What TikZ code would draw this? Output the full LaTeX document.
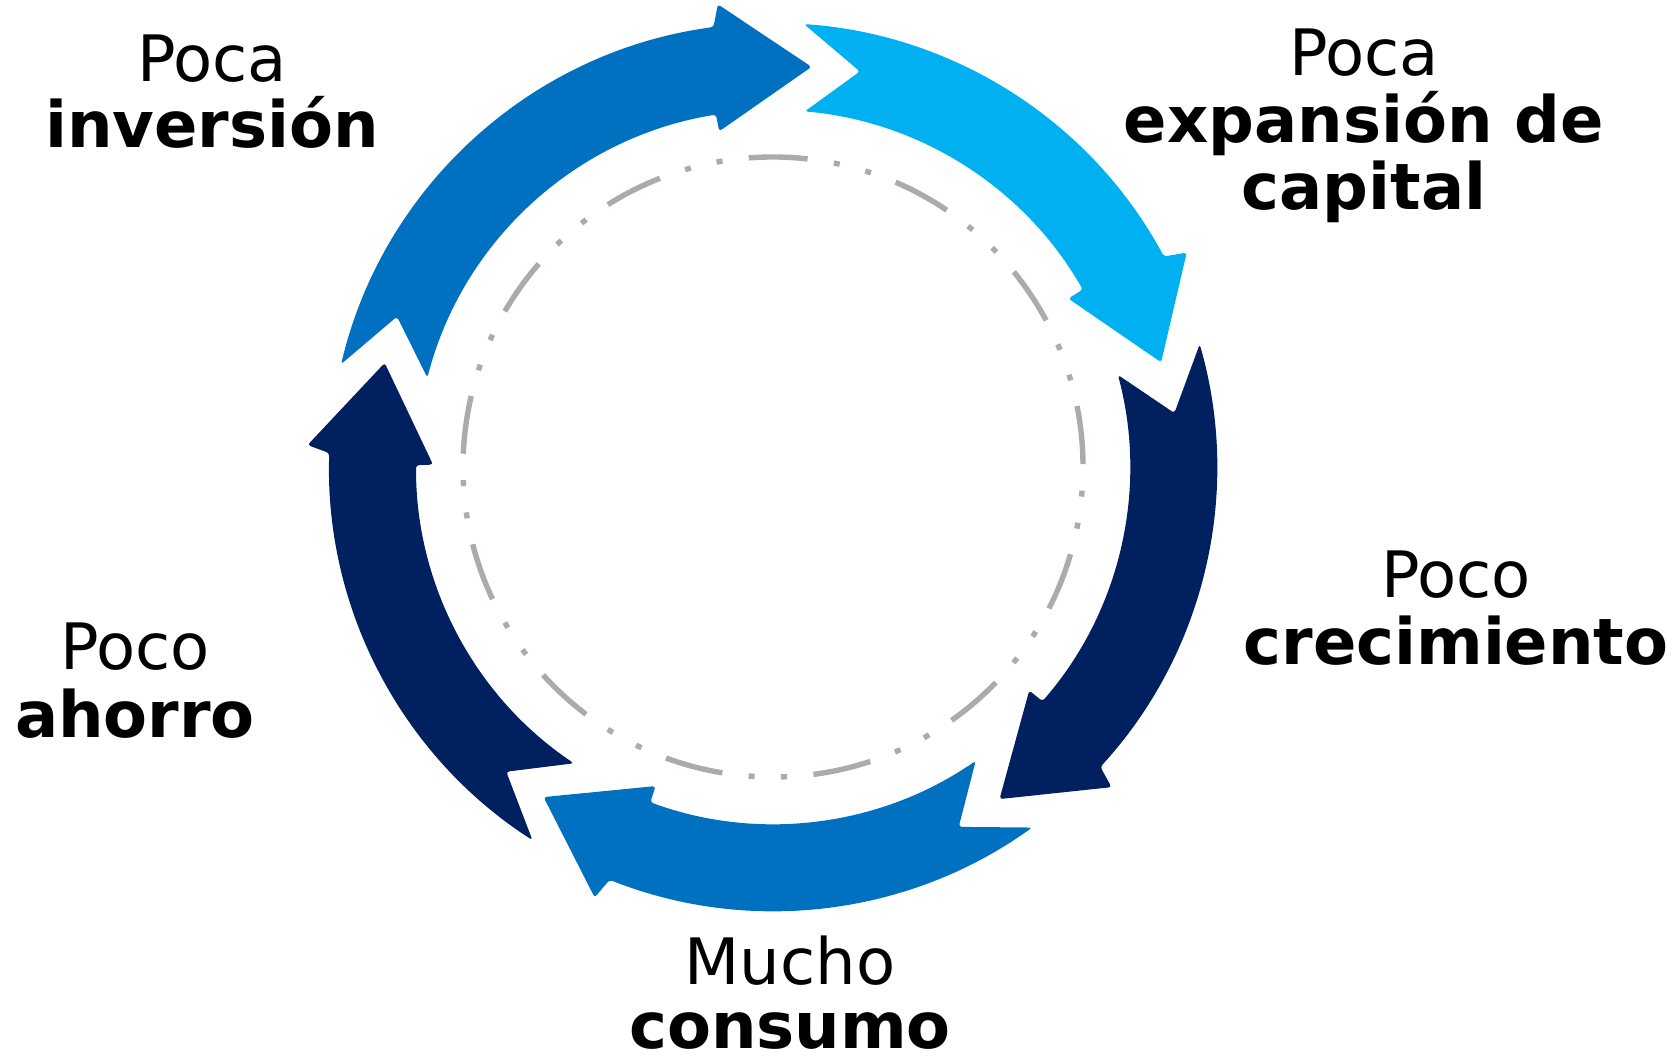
\documentclass[tikz,border=0pt]{standalone}
\usepackage{fontspec}
\setmainfont{DejaVu Sans}
\definecolor{midblue}{HTML}{0070C0}
\definecolor{lightblue}{HTML}{00B0F0}
\definecolor{navyblue}{HTML}{002060}
\definecolor{ringgray}{RGB}{174,170,170}
% #1 colour, #2 tail outer angle, #3 head (outer band end) angle
\newcommand\cyclearrow[3]{%
  \fill[#1, rounded corners=1.5pt]
    (#2:222pt) arc[start angle=#2, end angle=#3, radius=222pt]
    -- ({#3-0.9}:233pt)
    -- ({#3-13.2}:201pt)
    -- ({#3+1.4}:170pt)
    -- ({#3+1.5}:178.5pt)
    arc[start angle={#3+1.5}, end angle={#2-1.1}, radius=178.5pt]
    -- ({#2-8.4}:202.5pt) -- cycle;}
\begin{document}
\begin{tikzpicture}[x=0.5pt,y=0.5pt,
  reg/.style={anchor=base,inner sep=0pt,font=\fontsize{32}{38}\selectfont},
  bld/.style={anchor=base,inner sep=0pt,font=\fontsize{32}{38}\selectfont\bfseries},
  ring/.style={draw=ringgray,line width=2.7pt,
    dash pattern=on 29.2pt off 13.2pt on 3pt off 13.2pt on 3pt off 13.3pt}]
\useasboundingbox (0,0) rectangle (1675,1061);
\coordinate (c) at (773,594);
\begin{scope}[shift={(c)}]
  \draw[ring] (83.7:155pt) arc[start angle=83.7, end angle=443.7, radius=155pt];
  \cyclearrow{midblue}{166.6}{97.7}
  \cyclearrow{lightblue}{86}{28.3}
  \cyclearrow{navyblue}{16.05}{-42.5}
  \cyclearrow{midblue}{-54.3}{-111.6}
  \cyclearrow{navyblue}{-122.8}{-181.8}
\end{scope}
% labels
\node[reg] (invA) at (212,979) {Poca};
\node[bld] (invB) at (212,913) {inversión};
\node[reg] (capA) at (1364,985) {Poca};
\node[bld] (capB) at (1364,918) {expansión de};
\node[bld] (capC) at (1364,851) {capital};
\node[reg] (creA) at (1456,463) {Poco};
\node[bld] (creB) at (1456,396) {crecimiento};
\node[reg] (conA) at (790,77) {Mucho};
\node[bld] (conB) at (790,13) {consumo};
\node[reg] (ahoA) at (135,392) {Poco};
\node[bld] (ahoB) at (135,324) {ahorro};
\end{tikzpicture}
\end{document}
